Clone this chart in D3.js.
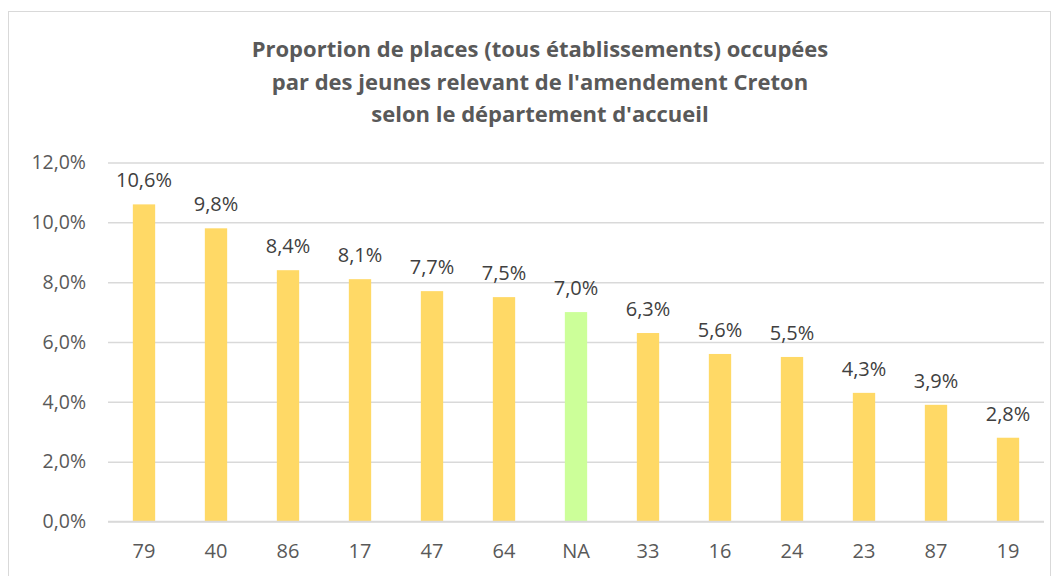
<!DOCTYPE html>
<html>
<head>
<meta charset="utf-8">
<script src="https://cdn.jsdelivr.net/npm/d3@7"></script>
<style>
  body { margin: 0; background: #fff; }
  svg { display: block; }
</style>
</head>
<body>
<svg width="1059" height="576"></svg>
<script>
const TITLE_LINES = [
  "Proportion de places (tous établissements) occupées",
  "par des jeunes relevant de l'amendement Creton",
  "selon le département d'accueil",
];
const DEPARTMENTS = ["79", "40", "86", "17", "47", "64", "NA", "33", "16", "24", "23", "87", "19"];
const SHARES = [10.6, 9.8, 8.4, 8.1, 7.7, 7.5, 7.0, 6.3, 5.6, 5.5, 4.3, 3.9, 2.8];
const Y_TICKS = [0, 2, 4, 6, 8, 10, 12];
const HIGHLIGHT = "NA";

const TEXT_COLOR = "#595959";
const FONT = "'Open Sans', 'Liberation Sans', sans-serif";

const PLOT = { left: 108, right: 1044, top: 162.5, bottom: 521.5 };

const svg = d3.select("svg");
const fmt = (v) => v.toFixed(1).replace(".", ",") + "%";

// chart frame
svg
  .append("rect")
  .attr("x", 8.5)
  .attr("y", 11.5)
  .attr("width", 1042)
  .attr("height", 600)
  .attr("fill", "#fff")
  .attr("stroke", "#d9d9d9");

// title
svg
  .append("g")
  .selectAll("text")
  .data(TITLE_LINES)
  .enter()
  .append("text")
  .attr("x", 540)
  .attr("y", (d, i) => 57 + i * 32.5)
  .attr("text-anchor", "middle")
  .attr("font-family", FONT)
  .attr("font-weight", "bold")
  .attr("font-size", 22)
  .attr("fill", TEXT_COLOR)
  .text((d) => d);

const x = d3
  .scaleBand()
  .domain(DEPARTMENTS)
  .range([PLOT.left, PLOT.right])
  .paddingInner(0.69)
  .paddingOuter(0.345);

const y = d3
  .scaleLinear()
  .domain([0, 12])
  .range([PLOT.bottom, PLOT.top]);

// gridlines + y labels
const yAxis = svg
  .append("g")
  .attr("transform", `translate(${PLOT.left},0)`)
  .call(
    d3
      .axisLeft(y)
      .tickValues(Y_TICKS)
      .tickSize(-(PLOT.right - PLOT.left))
      .tickPadding(22)
      .tickFormat(fmt)
  );
yAxis.select(".domain").remove();
yAxis.selectAll("line").attr("stroke", "#d9d9d9").attr("stroke-width", 1.5);
yAxis
  .selectAll("text")
  .attr("font-family", FONT)
  .attr("font-size", 19.5)
  .attr("fill", TEXT_COLOR);

// bars
const data = DEPARTMENTS.map((d, i) => ({ dep: d, value: SHARES[i] }));

svg
  .append("g")
  .selectAll("rect")
  .data(data)
  .enter()
  .append("rect")
  .attr("x", (d) => x(d.dep))
  .attr("width", x.bandwidth())
  .attr("y", (d) => y(d.value))
  .attr("height", (d) => y(0) - y(d.value))
  .attr("fill", (d) => (d.dep === HIGHLIGHT ? "#ccff99" : "#ffd966"));

// value labels
svg
  .append("g")
  .selectAll("text")
  .data(data)
  .enter()
  .append("text")
  .attr("x", (d) => x(d.dep) + x.bandwidth() / 2)
  .attr("y", (d) => y(d.value) - 17)
  .attr("text-anchor", "middle")
  .attr("font-family", FONT)
  .attr("font-size", 20)
  .attr("fill", "#404040")
  .text((d) => fmt(d.value));

// baseline
svg
  .append("line")
  .attr("x1", PLOT.left)
  .attr("x2", PLOT.right)
  .attr("y1", y(0))
  .attr("y2", y(0))
  .attr("stroke", "#d9d9d9")
  .attr("stroke-width", 1.5);

// x labels
const xAxis = svg
  .append("g")
  .attr("transform", `translate(0,${PLOT.bottom})`)
  .call(d3.axisBottom(x).tickSize(0).tickPadding(22));
xAxis.select(".domain").remove();
xAxis
  .selectAll("text")
  .attr("font-family", FONT)
  .attr("font-size", 20)
  .attr("fill", TEXT_COLOR);
</script>
</body>
</html>
